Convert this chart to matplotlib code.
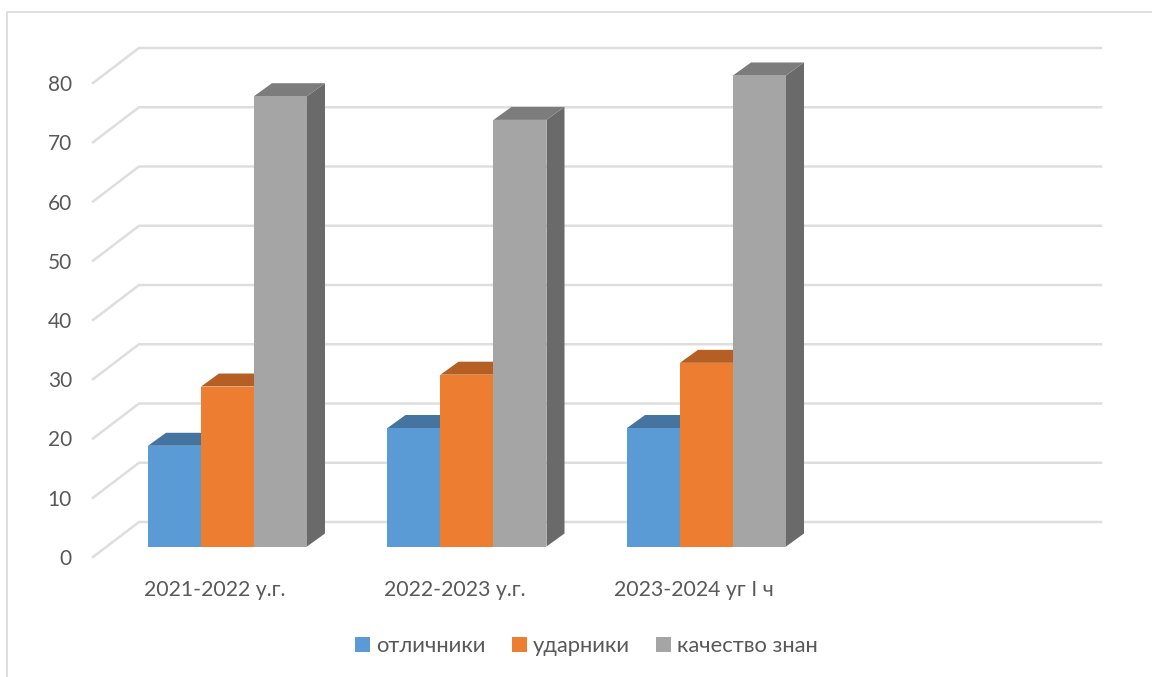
import matplotlib
matplotlib.use("Agg")
import matplotlib.pyplot as plt
from matplotlib.patches import Polygon

plt.rcParams['font.family'] = ['Lato', 'Open Sans', 'DejaVu Sans']

categories = ['2021-2022 у.г.', '2022-2023 у.г.', '2023-2024 уг I ч']
series_names = ['отличники', 'ударники', 'качество знан']
otlichniki = [17, 20, 20]
udarniki = [27, 29, 31]
kachestvo = [76, 72, 79.5]
y_ticks = [0, 10, 20, 30, 40, 50, 60, 70, 80]

front_colors = ['#5B9BD5', '#ED7D31', '#A5A5A5']
top_colors = ['#44749F', '#B55F25', '#7C7C7C']
side_colors = ['#3E6A92', '#A65720', '#6A6A6A']
text_color = '#595959'
line_color = '#DEDEDE'

W, H = 1152, 677
X_PX = 239.5     # pixels per category
Y_PX = 5.925     # pixels per value unit
LEFT_PX = 148    # left edge of the first group
BASE_PX = 546.5  # value 0 on the bars' front face


def px_w(p):
    return p / X_PX


def px_h(p):
    return p / Y_PX


fig = plt.figure(figsize=(W / 100, H / 100), dpi=100)
ax = fig.add_axes([0, 0, 1, 1])
ax.set_xlim(-LEFT_PX / X_PX, (W - LEFT_PX) / X_PX)
ax.set_ylim(-(H - BASE_PX) / Y_PX, BASE_PX / Y_PX)
ax.axis('off')

# chart border, open on the right and at the bottom
ax.plot([px_w(7 - LEFT_PX), px_w(7 - LEFT_PX), px_w(W - LEFT_PX)],
        [px_h(BASE_PX - H), px_h(BASE_PX - 12), px_h(BASE_PX - 12)],
        color=line_color, lw=1.4, zorder=1)

# gridlines run along the floor/wall, so each one has a bent left part
for v in y_ticks:
    ax.plot([px_w(93 - LEFT_PX), px_w(139 - LEFT_PX), px_w(1101 - LEFT_PX)],
            [v - px_h(10.5), v + px_h(24.5), v + px_h(24.5)],
            color=line_color, lw=1.8, zorder=1, solid_joinstyle='miter')
    ax.text(px_w(72 - LEFT_PX), v - px_h(12.5), str(v), ha='right', va='center',
            fontsize=15, color=text_color)

bar_w = px_w(53)
dx = px_w(18)
dy = px_h(13)
all_values = [otlichniki, udarniki, kachestvo]
handles = []
for s, values in enumerate(all_values):
    for c, v in enumerate(values):
        x0 = c + s * bar_w
        x1 = x0 + bar_w
        z = 3 + s + c * 10
        ax.add_patch(Polygon([(x1, 0), (x1 + dx, dy), (x1 + dx, v + dy), (x1, v)],
                             facecolor=side_colors[s], edgecolor='none', zorder=z))
        ax.add_patch(Polygon([(x0, v), (x1, v), (x1 + dx, v + dy), (x0 + dx, v + dy)],
                             facecolor=top_colors[s], edgecolor='none', zorder=z))
    bars = ax.bar([c + s * bar_w for c in range(len(values))], values, width=bar_w,
                  align='edge', color=front_colors[s], label=series_names[s], zorder=3.5 + s)
    for c, b in enumerate(bars):
        b.set_zorder(3.5 + s + c * 10)
    handles.append(bars)

for c, name in enumerate(categories):
    ax.text(c + 1.5 * bar_w - px_w(12.5), px_h(BASE_PX - 590), name, ha='center', va='center',
            fontsize=15.3, color=text_color)

ax.legend(handles, series_names, loc='center', ncol=3, frameon=False,
          bbox_to_anchor=(586.5 / W, 1 - 646 / H), fontsize=15.8, labelcolor=text_color,
          handlelength=0.68, handleheight=0.68, handletextpad=0.27, columnspacing=1.2,
          borderpad=0)

fig.savefig('out.png', dpi=100, facecolor='white')
